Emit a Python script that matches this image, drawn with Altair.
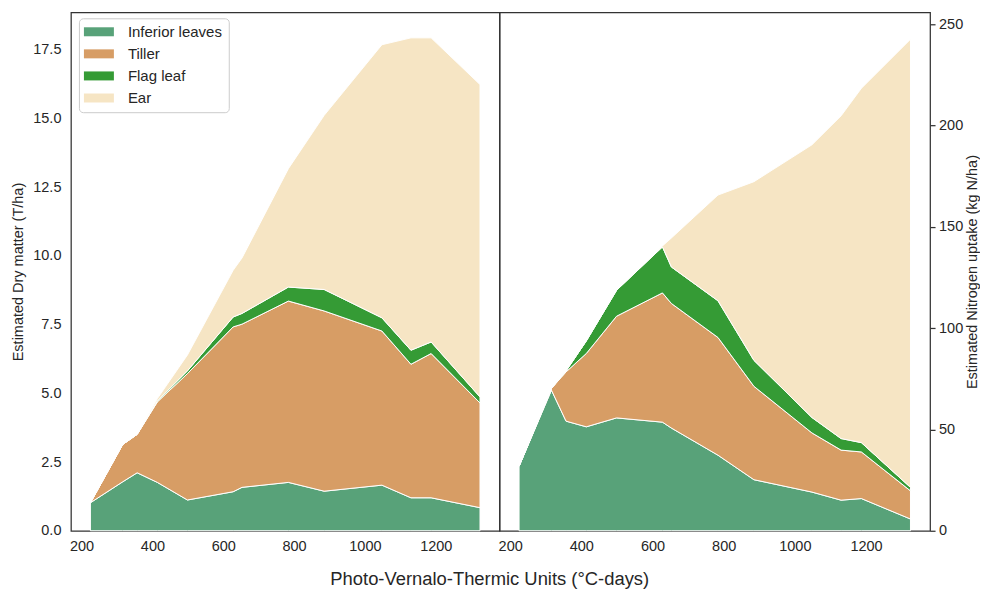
import altair as alt
import pandas as pd

# ---- data ----
x_units = [225, 316, 357, 414, 499, 628, 653, 784, 885, 1048, 1130, 1187, 1325]
components = ["Inferior leaves", "Tiller", "Flag leaf", "Ear"]
colors = ["#58A279", "#D79D65", "#359B35", "#F6E5C4"]

# Dry matter (T/ha) per component (stacked)
dm_inferior = [1.02, 1.78, 2.11, 1.76, 1.12, 1.42, 1.58, 1.76, 1.44, 1.66, 1.20, 1.20, 0.84]
dm_tiller = [0.0, 1.36, 1.40, 2.93, 4.60, 6.00, 5.94, 6.60, 6.56, 5.61, 4.86, 5.25, 3.81]
dm_flag = [0.0, 0.0, 0.0, 0.03, 0.10, 0.36, 0.39, 0.51, 0.78, 0.48, 0.51, 0.42, 0.22]
dm_ear = [0.0, 0.0, 0.0, 0.09, 0.58, 1.70, 2.02, 4.31, 6.34, 9.94, 11.37, 11.07, 11.37]

# Nitrogen uptake (kg N/ha) per component (stacked)
n_inferior = [31.9, 69.4, 54.1, 51.3, 55.7, 53.6, 50.7, 37.3, 25.2, 19.1, 15.1, 15.9, 5.8]
n_tiller = [0.0, 0.9, 24.3, 36.2, 50.2, 63.8, 61.5, 58.1, 46.1, 29.2, 24.7, 23.0, 13.9]
n_flag = [0.0, 0.0, 0.5, 6.2, 12.8, 22.7, 18.0, 18.1, 12.8, 7.6, 5.7, 4.6, 1.7]
n_ear = [0.0, 0.0, 0.0, 0.0, 0.0, 0.5, 14.3, 52.2, 88.2, 134.6, 159.3, 174.9, 221.2]

x_ticks = [200, 400, 600, 800, 1000, 1200]
dm_ticks = [0, 2.5, 5, 7.5, 10, 12.5, 15, 17.5]
n_ticks = [0, 50, 100, 150, 200, 250]


def to_long(series_list):
    rows = []
    for k, (name, vals) in enumerate(zip(components, series_list)):
        for x, v in zip(x_units, vals):
            rows.append({"x": x, "v": v, "comp": name, "k": k})
    return pd.DataFrame(rows)


dm_df = to_long([dm_inferior, dm_tiller, dm_flag, dm_ear])
n_df = to_long([n_inferior, n_tiller, n_flag, n_ear])

FONT = "Liberation Sans"
TXT = "#262626"
FRAME = "#333333"

x_scale = alt.Scale(domain=[170, 1380], nice=False, zero=False)


def x_enc():
    return alt.X(
        "x:Q",
        scale=x_scale,
        axis=alt.Axis(
            title=None, values=x_ticks, format="d", ticks=False, domain=False,
            grid=False, labelPadding=9, labelFontSize=14.5, labelColor=TXT,
            labelFont=FONT,
        ),
    )


legend = alt.Legend(
    title=None, orient="none", legendX=8, legendY=6,
    symbolType="M-1.7,-0.9h6v1.8h-6Z", symbolSize=100, symbolStrokeWidth=0,
    symbolOpacity=1,
    labelOffset=28, labelFontSize=15, labelColor=TXT, labelFont=FONT,
    rowPadding=6.1, padding=6, strokeColor="#cccccc", cornerRadius=4,
    fillColor="white",
)

left = alt.Chart(dm_df).mark_area(
    stroke="white", strokeWidth=1, interpolate="linear", opacity=1
).encode(
    x=x_enc(),
    y=alt.Y(
        "v:Q", stack="zero",
        scale=alt.Scale(domain=[0, 18.87], nice=False),
        axis=alt.Axis(
            title="Estimated Dry matter (T/ha)", values=dm_ticks, format=".1f",
            ticks=False, domain=False, grid=False, labelPadding=10,
            titlePadding=7, labelFontSize=14.5, titleFontSize=14.5,
            titleFontWeight="normal", labelColor=TXT, titleColor=TXT,
            labelFont=FONT, titleFont=FONT,
        ),
    ),
    color=alt.Color("comp:N", scale=alt.Scale(domain=components, range=colors),
                    legend=legend),
    order=alt.Order("k:Q"),
).properties(width=429, height=519)

right = alt.Chart(n_df).mark_area(
    stroke="white", strokeWidth=1, interpolate="linear", opacity=1
).encode(
    x=x_enc(),
    y=alt.Y(
        "v:Q", stack="zero",
        scale=alt.Scale(domain=[0, 255.9], nice=False),
        axis=alt.Axis(
            orient="right", title="Estimated Nitrogen uptake (kg N/ha)",
            titleAngle=270, titleBaseline="top", values=n_ticks, format="d",
            ticks=True, tickSize=5, tickWidth=1.25, tickColor=FRAME,
            domain=False, grid=False, labelPadding=3.5, titlePadding=2.5,
            labelFontSize=14.5, titleFontSize=14.5, titleFontWeight="normal",
            labelColor=TXT, titleColor=TXT, labelFont=FONT, titleFont=FONT,
        ),
    ),
    color=alt.Color("comp:N", scale=alt.Scale(domain=components, range=colors),
                    legend=None),
    order=alt.Order("k:Q"),
).properties(width=431, height=519)

chart = alt.hconcat(left, right, spacing=0, bounds="flush").resolve_scale(
    color="independent", y="independent"
).properties(
    title=alt.TitleParams(
        "Photo-Vernalo-Thermic Units (°C-days)", orient="bottom",
        anchor="middle", fontSize=18.4, fontWeight="normal", color=TXT,
        font=FONT, offset=16, dx=-5,
    ),
    padding={"left": 2, "top": 3, "right": 0, "bottom": 0},
).configure(
    background="white", font=FONT
).configure_view(
    stroke=FRAME, strokeWidth=1.25
)

chart.save("out.html", embed_options={"renderer": "svg", "actions": False})
